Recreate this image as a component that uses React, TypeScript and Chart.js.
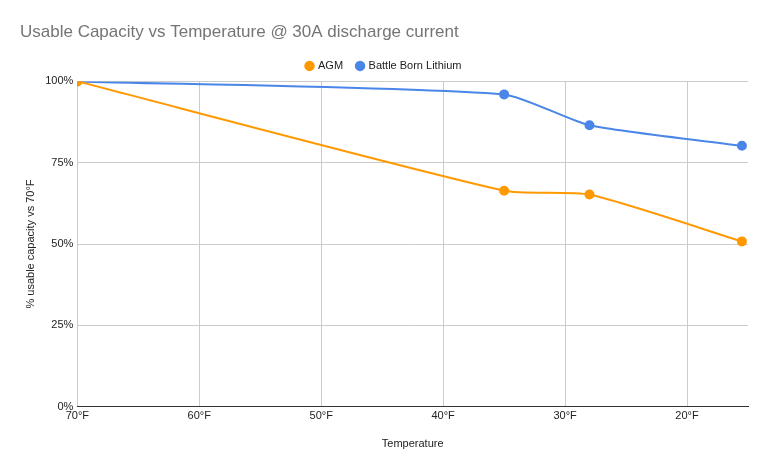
import React, { useEffect, useRef } from "react";
import { Chart, registerables } from "chart.js";
Chart.register(...registerables);

const temps = [70, 35, 28, 15.5];
const agm = [100, 66.4, 65.2, 50.8];
const lithium = [100, 96.0, 86.5, 80.2];
const xTicks = [70, 60, 50, 40, 30, 20];

export default function App() {
  const ref = useRef<HTMLCanvasElement>(null);
  useEffect(() => {
    const font = "Arial, 'Liberation Sans', sans-serif";
    const chart = new Chart(ref.current!, {
      type: "line",
      data: {
        datasets: [
          { label: "AGM", data: temps.map((t, i) => ({ x: t, y: agm[i] })), borderColor: "#ff9900", backgroundColor: "#ff9900", borderWidth: 2, pointRadius: 4, tension: 0.2 },
          { label: "Battle Born Lithium", data: temps.map((t, i) => ({ x: t, y: lithium[i] })), borderColor: "#4a86e8", backgroundColor: "#4a86e8", borderWidth: 2, pointRadius: 4, tension: 0.2 },
        ],
      },
      options: {
        animation: false,
        responsive: false,
        layout: { padding: { left: 12, right: 12, top: 4, bottom: 12 } },
        plugins: {
          title: { display: true, text: "Usable Capacity vs Temperature @ 30A discharge current", align: "start", color: "#757575", font: { family: font, size: 17, weight: "normal" }, padding: { top: 10, bottom: 4 } },
          legend: { labels: { usePointStyle: true, pointStyle: "circle", boxWidth: 6, boxHeight: 6, color: "#222", font: { family: font, size: 11 }, padding: 14 } },
          tooltip: { enabled: false },
        },
        scales: {
          x: {
            type: "linear", reverse: true, min: 15, max: 70,
            afterBuildTicks: (s: any) => { s.ticks = xTicks.map((v) => ({ value: v })); },
            ticks: { callback: (v: any) => v + "°F", color: "#222", font: { family: font, size: 11 }, maxRotation: 0 },
            grid: { color: "#cccccc", drawTicks: false },
            border: { color: "#333" },
            title: { display: true, text: "Temperature", color: "#222", font: { family: font, size: 11 }, padding: { top: 12 } },
          },
          y: {
            min: 0, max: 100,
            ticks: { stepSize: 25, callback: (v: any) => v + "%", color: "#222", font: { family: font, size: 11 }, padding: 4 },
            grid: { color: "#cccccc", drawTicks: false },
            border: { display: false },
            title: { display: true, text: "% usable capacity vs 70°F", color: "#222", font: { family: font, size: 11 } },
          },
        },
      } as any,
    });
    return () => chart.destroy();
  }, []);
  return <canvas ref={ref} width={752} height={459} />;
}
